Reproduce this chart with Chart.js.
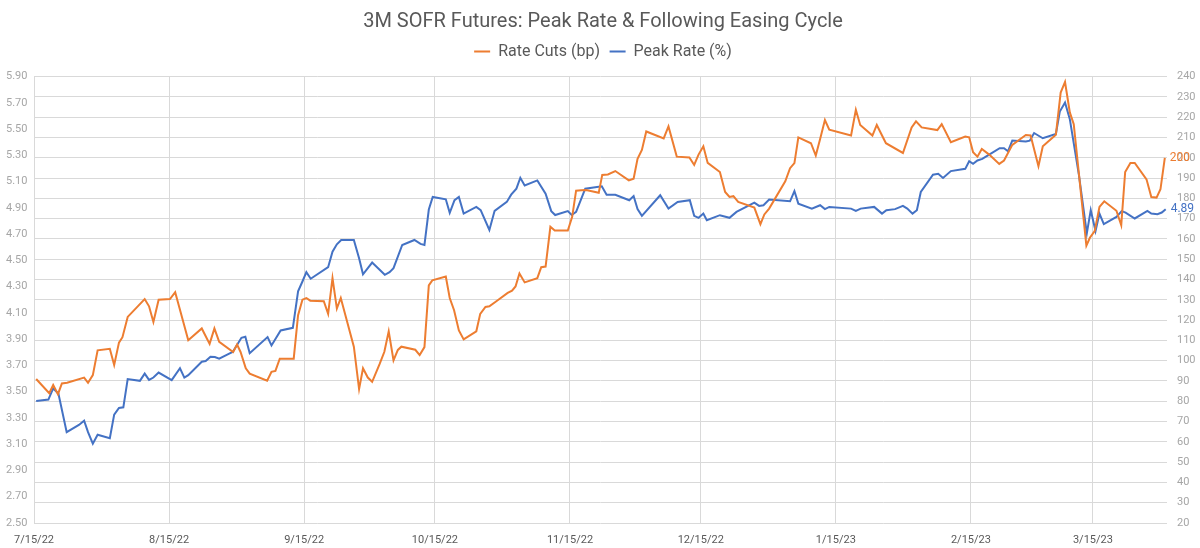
<!DOCTYPE html>
<html>
<head>
<meta charset="utf-8">
<title>3M SOFR Futures: Peak Rate &amp; Following Easing Cycle</title>
<script src="https://cdn.jsdelivr.net/npm/chart.js@4.4.0/dist/chart.umd.min.js"></script>
<style>
  html, body { margin: 0; padding: 0; background: #fff; }
  #wrap { width: 1200px; height: 548px; }
</style>
</head>
<body>
<div id="wrap"><canvas id="graficoSofr" width="1200" height="548"></canvas></div>
<script>
// x values are days counted from 7/15/22
var xTickLabels = ['7/15/22', '8/15/22', '9/15/22', '10/15/22', '11/15/22', '12/15/22', '1/15/23', '2/15/23', '3/15/23'];
var leftTicks = { min: 2.5, max: 5.9, step: 0.2 };
var rightTicks = { min: 20, max: 240, step: 10 };

var cutDays = [0.5, 3.5, 4.4, 5.5, 6.4, 7.6, 11.5, 12.4, 13.5, 14.6, 17.4, 18.4, 19.5, 20.3, 21.5, 25.4, 26.4, 27.4, 28.6, 31.2,
  32.4, 35.4, 38.5, 40.3, 41.4, 42.5, 45.7, 46.6, 47.4, 48.6, 49.5, 53.5, 54.5, 55.4, 56.4, 59.6, 60.6, 61.6, 62.5, 63.4,
  66.5, 67.5, 68.5, 69.5, 70.4, 73.4, 74.6, 75.5, 76.6, 77.6, 79.3, 80.4, 81.4, 82.5, 83.5, 84.3, 87.5, 88.5, 89.6, 90.6,
  91.4, 94.5, 95.4, 96.4, 97.5, 98.6, 101.5, 102.4, 103.6, 104.5, 106.1, 108.7, 109.7, 110.5, 111.4, 112.6, 115.5, 116.4, 117.4, 118.5,
  119.5, 122.5, 123.5, 124.4, 125.6, 126.7, 129.6, 130.4, 131.7, 133.4, 136.5, 137.6, 138.5, 139.5, 140.5, 144.5, 145.6, 147.5, 150.4, 151.5,
  152.5, 153.6, 154.6, 157.4, 158.6, 159.6, 160.5, 161.6, 165.3, 166.7, 167.6, 168.7, 172.4, 173.5, 174.5, 175.4, 178.3, 179.4, 180.4, 181.5,
  182.5, 187.5, 188.6, 189.6, 192.4, 193.4, 195.5, 199.4, 201.4, 202.4, 203.7, 207.3, 208.3, 210.4, 213.7, 214.6, 215.5, 216.5, 217.5, 219.2,
  221.5, 222.6, 224.5, 227.6, 228.7, 230.5, 231.5, 234.5, 235.6, 236.6, 237.7, 238.6, 241.5, 242.3, 243.4, 244.5, 245.6, 248.4, 249.5, 250.4,
  251.6, 252.6, 255.3, 256.4, 257.6, 258.5, 259.5];
var rateCuts = [91, 84, 88, 83.5, 88.8, 89.1, 91.7, 89.1, 92.9, 105.1, 105.9, 97.9, 108.9, 111.6, 121.6, 130.4, 126.8, 119.1, 130.1, 130.4,
  133.8, 110.1, 115.9, 108.3, 115.9, 109.3, 104.3, 108, 104.3, 96.3, 93.6, 90.1, 94.5, 95, 101, 101, 122.4, 130.1, 130.9, 129.6,
  129.3, 123.1, 140.7, 125.7, 130.9, 106.9, 86, 96.3, 91.7, 89.6, 98.3, 104.4, 114.5, 100.2, 105.3, 106.9, 105.4, 102.8, 106.7, 137.1,
  139.6, 141.5, 130.9, 124.9, 114.9, 110.5, 114.5, 123.1, 126.5, 126.8, 129.3, 133.4, 134.5, 136.6, 143, 138.6, 140.7, 146.1, 146.4, 166,
  164.2, 164.2, 170.9, 183.8, 184, 184.1, 182.8, 191.6, 191.8, 193.5, 188.9, 189.7, 199.5, 203.9, 213, 209.6, 215.5, 200.6, 200.2, 196.5,
  201.6, 205.7, 197.5, 193, 183.2, 180.7, 181.1, 178.3, 175.5, 167.3, 172.1, 175, 188.4, 194.9, 197.4, 210.1, 207.2, 201.1, 209.3, 218.6,
  213.9, 211, 223.7, 216.2, 211, 216.2, 207.2, 202.4, 215, 218, 215, 213.7, 216.6, 207.7, 210.5, 210.1, 202.8, 200.6, 204.4, 201.6,
  197, 198.7, 206.4, 211.3, 211, 195.9, 205.7, 211.4, 232.2, 237.4, 222.4, 216.6, 156.7, 160.6, 163.9, 175.8, 178.6, 173.9, 166.8, 193,
  197.5, 197.5, 189.4, 180.7, 180.4, 184.5, 200];

var peakDays = [0.5, 3.3, 4.4, 5.6, 7.5, 10.3, 11.5, 12.4, 13.5, 14.6, 17.4, 18.4, 19.5, 20.5, 21.5, 24.3, 25.4, 26.4, 27.4, 28.6,
  31.6, 33.5, 34.5, 35.4, 38.5, 39.4, 40.5, 41.5, 42.5, 44.8, 45.6, 47.6, 48.5, 49.5, 53.6, 54.5, 56.6, 59.4, 60.6, 61.6,
  62.5, 63.5, 67.5, 68.5, 69.5, 70.5, 73.4, 74.6, 75.5, 77.6, 80.5, 81.6, 82.5, 84.5, 87.3, 88.7, 89.6, 90.6, 91.5, 94.5,
  95.4, 96.5, 97.5, 98.6, 101.5, 102.5, 104.5, 105.7, 108.5, 109.5, 110.7, 111.6, 112.6, 115.5, 117.4, 118.7, 119.6, 122.5, 123.4, 124.4,
  125.6, 126.5, 130.3, 131.4, 133.4, 136.6, 137.6, 138.5, 139.5, 143.7, 145.6, 147.7, 150.5, 151.5, 152.5, 153.6, 154.4, 157.4, 159.6, 161.2,
  165.3, 166.4, 167.4, 168.7, 173.5, 174.5, 175.4, 178.5, 180.4, 181.5, 182.5, 187.5, 188.6, 189.7, 192.8, 194.6, 195.6, 197.6, 199.4, 200.4,
  201.6, 202.6, 203.5, 206.3, 207.5, 208.6, 210.4, 213.7, 214.6, 215.5, 216.5, 217.6, 219.2, 221.6, 222.6, 223.5, 224.5, 227.6, 228.5, 229.5,
  231.5, 234.5, 235.4, 236.6, 237.7, 239.8, 241.6, 242.5, 243.6, 244.5, 245.5, 248.4, 249.6, 250.5, 252.6, 255.5, 256.4, 257.8, 258.8, 259.7];
var peakRate = [3.43, 3.44, 3.525, 3.487, 3.192, 3.247, 3.28, 3.192, 3.104, 3.172, 3.146, 3.326, 3.376, 3.381, 3.596, 3.583, 3.638, 3.59, 3.608, 3.646,
  3.588, 3.679, 3.608, 3.626, 3.729, 3.734, 3.767, 3.765, 3.752, 3.79, 3.803, 3.911, 3.919, 3.793, 3.916, 3.853, 3.967, 3.987, 4.265, 4.34,
  4.411, 4.361, 4.449, 4.567, 4.623, 4.656, 4.656, 4.517, 4.395, 4.484, 4.391, 4.411, 4.441, 4.618, 4.656, 4.626, 4.618, 4.888, 4.984, 4.966,
  4.863, 4.959, 4.984, 4.857, 4.908, 4.883, 4.732, 4.878, 4.946, 5.001, 5.047, 5.13, 5.072, 5.11, 5.009, 4.876, 4.846, 4.876, 4.846, 4.87,
  4.971, 5.047, 5.065, 5.001, 5.001, 4.959, 4.991, 4.891, 4.84, 4.997, 4.895, 4.946, 4.959, 4.84, 4.825, 4.857, 4.807, 4.845, 4.825, 4.87,
  4.941, 4.916, 4.921, 4.964, 4.951, 5.029, 4.933, 4.895, 4.921, 4.891, 4.908, 4.895, 4.878, 4.895, 4.908, 4.857, 4.883, 4.891, 4.916, 4.895,
  4.857, 4.883, 5.022, 5.153, 5.16, 5.128, 5.181, 5.198, 5.256, 5.236, 5.262, 5.274, 5.307, 5.355, 5.355, 5.332, 5.413, 5.406, 5.413, 5.471,
  5.431, 5.463, 5.635, 5.703, 5.577, 5.148, 4.706, 4.883, 4.724, 4.857, 4.777, 4.832, 4.876, 4.865, 4.82, 4.878, 4.857, 4.853, 4.865, 4.89];

var corLaranja = '#ED7D31';
var corAzul = '#4472C4';
var fonte = 'Roboto, "DejaVu Sans", sans-serif';

function diasDesde(label) {
  var p = label.split('/');
  var d = Date.UTC(2000 + Number(p[2]), Number(p[0]) - 1, Number(p[1]));
  return Math.round((d - Date.UTC(2022, 6, 15)) / 86400000);
}
var xTickDays = xTickLabels.map(diasDesde);

function pontos(xs, ys) {
  return xs.map(function (x, i) { return { x: x, y: ys[i] }; });
}

// last value written at the end of each line
var rotuloFinal = {
  id: 'rotuloFinal',
  afterDatasetsDraw: function (chart) {
    var ctx = chart.ctx;
    ctx.save();
    ctx.font = '12px ' + fonte;
    ctx.textBaseline = 'middle';
    ctx.textAlign = 'left';
    chart.data.datasets.forEach(function (ds, i) {
      var meta = chart.getDatasetMeta(i);
      var ultimo = meta.data[meta.data.length - 1];
      var v = ds.data[ds.data.length - 1].y;
      ctx.fillStyle = ds.borderColor;
      ctx.fillText(i === 0 ? String(Math.round(v)) : v.toFixed(2), ultimo.x + 5, ultimo.y);
    });
    ctx.restore();
  }
};

var graficoSofr = new Chart(document.getElementById('graficoSofr').getContext('2d'), {
  type: 'line',
  data: {
    datasets: [{
      label: 'Rate Cuts (bp)',
      data: pontos(cutDays, rateCuts),
      yAxisID: 'y2',
      borderColor: corLaranja,
      backgroundColor: corLaranja,
      borderWidth: 2,
      pointRadius: 0,
      tension: 0
    }, {
      label: 'Peak Rate (%)',
      data: pontos(peakDays, peakRate),
      yAxisID: 'y1',
      borderColor: corAzul,
      backgroundColor: corAzul,
      borderWidth: 2,
      pointRadius: 0,
      tension: 0
    }]
  },
  options: {
    responsive: false,
    animation: false,
    layout: { padding: { top: 9, left: 6, right: 0, bottom: 0 } },
    plugins: {
      title: {
        display: true,
        text: '3M SOFR Futures: Peak Rate & Following Easing Cycle',
        color: '#595959',
        font: { family: fonte, size: 20, weight: 'normal' },
        padding: { top: 1, bottom: 0 }
      },
      // empty spacer between legend and plot area
      subtitle: {
        display: true,
        text: '',
        weight: 500,
        font: { size: 1 },
        padding: { top: 0, bottom: 6 }
      },
      legend: {
        labels: {
          usePointStyle: true,
          pointStyle: 'line',
          pointStyleWidth: 16,
          color: '#595959',
          font: { family: fonte, size: 16 },
          padding: 9.5
        }
      },
      tooltip: { enabled: false }
    },
    scales: {
      x: {
        type: 'linear',
        min: 0,
        max: 260,
        afterBuildTicks: function (axis) {
          axis.ticks = xTickDays.map(function (v) { return { value: v }; });
        },
        afterFit: function (axis) { axis.height = 25; },
        ticks: {
          autoSkip: false,
          maxRotation: 0,
          padding: 11,
          color: '#595959',
          font: { family: fonte, size: 11 },
          callback: function (v) { return xTickLabels[xTickDays.indexOf(v)]; }
        },
        grid: { color: '#d9d9d9', drawTicks: false },
        border: { display: false }
      },
      y1: {
        position: 'left',
        min: leftTicks.min,
        max: leftTicks.max,
        afterBuildTicks: function (axis) {
          var t = [];
          for (var v = leftTicks.min; v <= leftTicks.max + 1e-6; v += leftTicks.step) t.push({ value: Math.round(v * 100) / 100 });
          axis.ticks = t;
        },
        afterFit: function (axis) { axis.width = 28; },
        ticks: {
          crossAlign: 'far',
          padding: 0,
          color: '#a6a6a6',
          font: { family: fonte, size: 11 },
          callback: function (v) { return Number(v).toFixed(2); }
        },
        grid: { display: false },
        border: { display: false }
      },
      y2: {
        position: 'right',
        min: rightTicks.min,
        max: rightTicks.max,
        afterFit: function (axis) { axis.width = 33; },
        ticks: {
          stepSize: rightTicks.step,
          padding: 10,
          color: '#a6a6a6',
          font: { family: fonte, size: 11 }
        },
        grid: { color: '#d9d9d9', drawTicks: false },
        border: { display: false }
      }
    }
  },
  plugins: [rotuloFinal]
});
</script>
</body>
</html>
